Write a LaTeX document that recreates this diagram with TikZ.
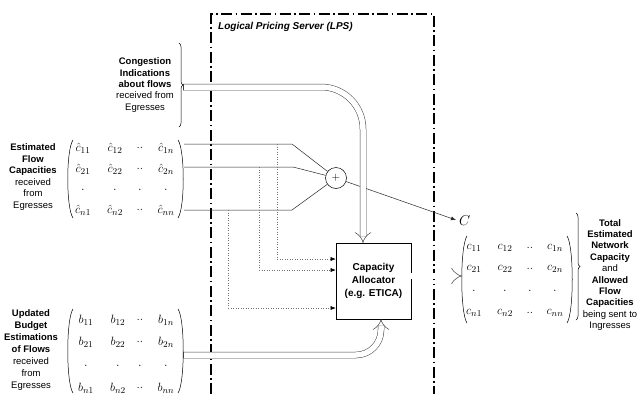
\documentclass[tikz,border=0pt]{standalone}
\usepackage{fontspec}
\newfontfamily\labfont{Liberation Sans}
\usetikzlibrary{arrows.meta,decorations.pathreplacing}
\begin{document}
\begin{tikzpicture}[x=1pt,y=-1pt,
  lab/.style={font=\labfont\fontsize{9.5}{11.5}\selectfont, align=center, inner sep=0pt},
  ent/.style={font=\fontsize{13}{15}\selectfont, inner sep=0pt},
  paren/.style={line width=0.5pt},
  dbl/.style={draw=black!75, double=white, double distance=5.5pt, line width=0.5pt},
  dotl/.style={dotted, draw=black!55, line width=0.5pt},
  flow/.style={draw=black!85, line width=0.5pt},
  lps/.style={line width=1.4pt, dash pattern=on 11pt off 3.5pt on 1.5pt off 3.5pt},
  ]
\useasboundingbox (0,0) rectangle (638,394);
\fill[white] (0,0) rectangle (638,394);

% Logical Pricing Server frame
\coordinate (lpsbl) at (211,394);
\coordinate (lpstl) at (211,14);
\coordinate (lpstr) at (434,14);
\coordinate (lpsbr) at (434,394);
\draw[lps] (lpsbl) -- (lpstl) -- (lpstr) -- (lpsbr);
\node[anchor=west, font=\labfont\bfseries\itshape\fontsize{10}{12}\selectfont, inner sep=0pt] (lpstitle) at (218,27) {Logical Pricing Server (LPS)};

% Congestion indications
\node[lab, font=\labfont\fontsize{9.5}{11.3}\selectfont] (cglab) at (145,85) {\textbf{Congestion}\\\textbf{Indications}\\\textbf{about flows}\\received from\\Egresses};
\draw[paren, decorate, decoration={brace, amplitude=4pt}] (179,43) -- (179,127);

% Estimated flow capacities
\node[lab] (eflab) at (33,177) {\textbf{Estimated}\\\textbf{Flow}\\\textbf{Capacities}\\received\\from\\Egresses};
\node[ent] (h11) at (83,148) {$\hat{c}_{11}$};
\node[ent] (h12) at (115,148) {$\hat{c}_{12}$};
\node[ent] (h13) at (140,148) {$..$};
\node[ent] (h14) at (166,148) {$\hat{c}_{1n}$};
\node[ent] (h21) at (83,169) {$\hat{c}_{21}$};
\node[ent] (h22) at (115,169) {$\hat{c}_{22}$};
\node[ent] (h23) at (140,169) {$..$};
\node[ent] (h24) at (166,169) {$\hat{c}_{2n}$};
\node[ent] (h31) at (83,190) {.};
\node[ent] (h32) at (115,190) {.};
\node[ent] (h33) at (140,190) {.};
\node[ent] (h34) at (166,190) {.};
\node[ent] (h41) at (83,210) {$\hat{c}_{n1}$};
\node[ent] (h42) at (115,210) {$\hat{c}_{n2}$};
\node[ent] (h43) at (140,210) {$..$};
\node[ent] (h44) at (166,210) {$\hat{c}_{nn}$};
\draw[paren] (73,140) .. controls (66,150) and (66,208) .. (73,218);
\draw[paren] (178,140) .. controls (185,150) and (185,208) .. (178,218);

% Updated budget estimations
\node[lab, font=\labfont\fontsize{9.5}{12.1}\selectfont] (ublab) at (31,350) {\textbf{Updated}\\\textbf{Budget}\\\textbf{Estimations}\\\textbf{of Flows}\\received\\from\\Egresses};
\node[ent] (b11) at (86,320) {$b_{11}$};
\node[ent] (b12) at (118,320) {$b_{12}$};
\node[ent] (b13) at (140,320) {$..$};
\node[ent] (b14) at (166,320) {$b_{1n}$};
\node[ent] (b21) at (86,342) {$b_{21}$};
\node[ent] (b22) at (118,342) {$b_{22}$};
\node[ent] (b23) at (140,342) {$..$};
\node[ent] (b24) at (166,342) {$b_{2n}$};
\node[ent] (b31) at (86,366) {.};
\node[ent] (b32) at (118,366) {.};
\node[ent] (b33) at (140,366) {.};
\node[ent] (b34) at (166,366) {.};
\node[ent] (b41) at (86,388) {$b_{n1}$};
\node[ent] (b42) at (118,388) {$b_{n2}$};
\node[ent] (b43) at (140,388) {$..$};
\node[ent] (b44) at (166,388) {$b_{nn}$};
\draw[paren] (73,309) .. controls (66,319) and (66,383) .. (73,393);
\draw[paren] (178,309) .. controls (185,319) and (185,383) .. (178,393);

% Summation node and flow lines
\node[draw, circle, minimum size=21pt, inner sep=0pt, line width=0.5pt, font=\fontsize{11}{12}\selectfont] (plus) at (336,178) {$+$};
\coordinate (f1s) at (184,144); \coordinate (f1k) at (292,144);
\coordinate (f2s) at (184,167); \coordinate (f2k) at (293,167);
\coordinate (f3s) at (184,210); \coordinate (f3k) at (292,210);
\draw[flow] (f1s) -- (f1k) -- (plus);
\draw[flow] (f2s) -- (f2k) -- (plus);
\draw[flow] (f3s) -- (f3k) -- (plus);

% Capacity allocator
\node[draw, line width=0.6pt, minimum width=75pt, minimum height=76pt, inner sep=0pt, align=center,
      font=\labfont\bfseries\fontsize{10}{13}\selectfont] (alloc) at (373.5,281) {Capacity\\Allocator\\(e.g. ETICA)};

% Dotted feeds
\coordinate (d1t) at (277,144); \coordinate (d1b) at (277,259);
\coordinate (d2t) at (259,167); \coordinate (d2b) at (259,270);
\coordinate (d3t) at (228,210); \coordinate (d3b) at (228,308);
\draw[dotl] (d1t) -- (d1b);
\draw[dotl] (d2t) -- (d2b);
\draw[dotl] (d3t) -- (d3b);
\draw[dotl, -{Latex[color=black,length=5pt,width=4pt]}] (d1b) -- (d1b -| alloc.west);
\draw[dotl, -{Latex[color=black,length=5pt,width=4pt]}] (d2b) -- (d2b -| alloc.west);
\draw[dotl, -{Latex[color=black,length=5pt,width=4pt]}] (d3b) -- (d3b -| alloc.west);

% Total capacity C
\coordinate (cend) at (456,220);
\draw[flow, -{Latex[length=5pt,width=4pt]}] (plus) -- (cend);
\node[inner sep=0pt, anchor=west, font=\fontsize{14}{16}\selectfont] (Clab) at (459,221) {$C$};

% Double (hollow) arrows
\coordinate (cgtip) at (183,87); \coordinate (cgk) at (363,87); \coordinate (cgin) at (363,243);
\draw[dbl, rounded corners=42pt, -{Implies}] (cgtip) -- (cgk) -- (cgin);
\draw[draw=black!75, line width=0.5pt] ([yshift=-3.25pt]cgtip) -- ([yshift=3.25pt]cgtip);

\coordinate (bbtip) at (183,355); \coordinate (bbk) at (381,355); \coordinate (bbin) at (381,319);
\draw[dbl, rounded corners=25pt, -{Implies}] (bbtip) -- (bbk) -- (bbin);
\draw[draw=black!75, line width=0.5pt] ([yshift=-3.25pt]bbtip) -- ([yshift=3.25pt]bbtip);

\coordinate (outs) at (411,276); \coordinate (oute) at (462,276);
\draw[dbl, -{Implies}] (outs) -- (oute);

% Output matrix
\node[ent] (c11) at (474,248) {$c_{11}$};
\node[ent] (c12) at (505,248) {$c_{12}$};
\node[ent] (c13) at (530,248) {$..$};
\node[ent] (c14) at (555,248) {$c_{1n}$};
\node[ent] (c21) at (474,269) {$c_{21}$};
\node[ent] (c22) at (505,269) {$c_{22}$};
\node[ent] (c23) at (530,269) {$..$};
\node[ent] (c24) at (555,269) {$c_{2n}$};
\node[ent] (c31) at (474,291) {.};
\node[ent] (c32) at (505,291) {.};
\node[ent] (c33) at (530,291) {.};
\node[ent] (c34) at (555,291) {.};
\node[ent] (c41) at (474,313) {$c_{n1}$};
\node[ent] (c42) at (505,313) {$c_{n2}$};
\node[ent] (c43) at (530,313) {$..$};
\node[ent] (c44) at (555,313) {$c_{nn}$};
\draw[paren] (467,236) .. controls (460,246) and (460,313) .. (467,323);
\draw[paren] (567,236) .. controls (574,246) and (574,313) .. (567,323);
\draw[paren, decorate, decoration={brace, amplitude=4pt}] (576,213) -- (576,320);
\node[lab, font=\labfont\fontsize{9.5}{11.4}\selectfont] (outlab) at (610,275) {\textbf{Total}\\\textbf{Estimated}\\\textbf{Network}\\\textbf{Capacity}\\and\\\textbf{Allowed}\\\textbf{Flow}\\\textbf{Capacities}\\being sent to\\Ingresses};
\end{tikzpicture}
\end{document}
